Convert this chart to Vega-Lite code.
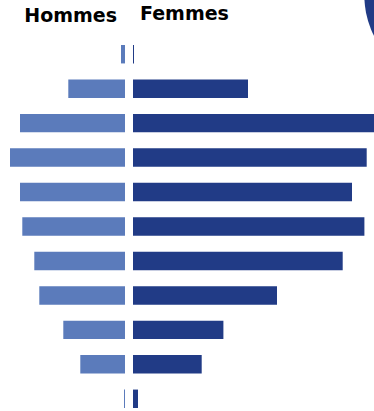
{
  "$schema": "https://vega.github.io/schema/vega-lite/v6.json",
  "padding": 0,
  "spacing": 8,
  "background": "white",
  "config": {"view": {"stroke": null}},
  "datasets": {
    "pyramide": [
      {"rang": 1, "hommes": 0.4, "femmes": 0.1},
      {"rang": 2, "hommes": 5.67, "femmes": 11.5},
      {"rang": 3, "hommes": 10.5, "femmes": 24.2},
      {"rang": 4, "hommes": 11.5, "femmes": 23.37},
      {"rang": 5, "hommes": 10.5, "femmes": 21.9},
      {"rang": 6, "hommes": 10.27, "femmes": 23.14},
      {"rang": 7, "hommes": 9.07, "femmes": 20.97},
      {"rang": 8, "hommes": 8.57, "femmes": 14.4},
      {"rang": 9, "hommes": 6.17, "femmes": 9.04},
      {"rang": 10, "hommes": 4.47, "femmes": 6.87},
      {"rang": 11, "hommes": 0.1, "femmes": 0.5}
    ],
    "decor": [{"x": 32.05, "y": 10.11}]
  },
  "hconcat": [
    {
      "width": 125,
      "height": 408,
      "title": {"text": "Hommes", "anchor": "end", "frame": "group", "dx": -8, "font": "DejaVu Sans", "fontSize": 19, "fontWeight": "bold", "color": "#000000", "baseline": "alphabetic", "offset": -41},
      "data": {"name": "pyramide"},
      "mark": {"type": "bar", "color": "#5b7bbb"},
      "encoding": {
        "y": {"field": "rang", "type": "ordinal", "axis": null, "scale": {"paddingInner": 0.465, "paddingOuter": 0.653, "align": 1}},
        "x": {"field": "hommes", "type": "quantitative", "axis": null, "scale": {"domain": [0, 12.5], "reverse": true, "nice": false}}
      }
    },
    {
      "width": 241,
      "height": 408,
      "title": {"text": "Femmes", "anchor": "start", "frame": "group", "dx": 7, "font": "DejaVu Sans", "fontSize": 19, "fontWeight": "bold", "color": "#000000", "baseline": "alphabetic", "offset": -39},
      "layer": [
        {
          "data": {"name": "decor"},
          "mark": {"type": "circle", "color": "#213b86", "opacity": 1, "size": 31795, "clip": true},
          "encoding": {
            "x": {"field": "x", "type": "quantitative", "axis": null, "scale": {"domain": [0, 24.1], "nice": false}},
            "y": {"field": "y", "type": "quantitative", "axis": null, "scale": {"domain": [0, 10], "nice": false}}
          }
        },
        {
          "data": {"name": "pyramide"},
          "mark": {"type": "bar", "color": "#213b86"},
          "encoding": {
            "y": {"field": "rang", "type": "ordinal", "axis": null, "scale": {"paddingInner": 0.465, "paddingOuter": 0.653, "align": 1}},
            "x": {"field": "femmes", "type": "quantitative", "axis": null, "scale": {"domain": [0, 24.1], "nice": false}}
          }
        }
      ],
      "resolve": {"scale": {"y": "independent"}}
    }
  ]
}
